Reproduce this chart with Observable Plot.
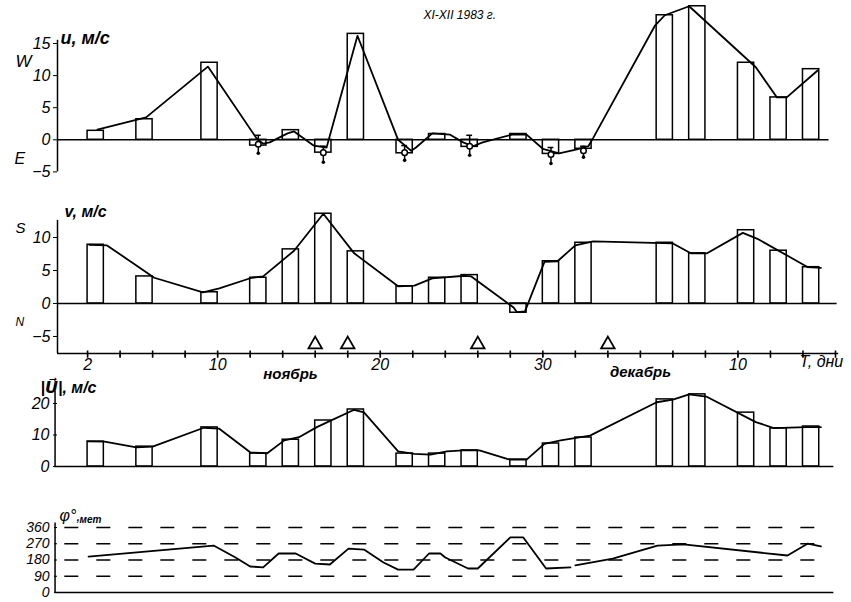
<!DOCTYPE html>
<html><head><meta charset="utf-8">
<script src="https://cdn.jsdelivr.net/npm/d3@7"></script>
<script src="https://cdn.jsdelivr.net/npm/@observablehq/plot@0.6"></script>
<style>
body{margin:0;background:#fff;}
#chart{position:relative;width:851px;height:602px;overflow:hidden;background:#fff;}
#chart svg{position:absolute;left:0;overflow:visible;background:transparent;}
</style></head><body><div id="chart"></div>
<script>
// ---------- DATA ----------
// day index T (uniform axis, ticks every 2 days)
const xTickValues = [2,4,6,8,10,12,14,16,18,20,22,24,26,28,30,32,34,36,38,40,42,44,46,48];
const xTickLabels = ["2","","","","10","","","","","20","","","","","30","","","","","","10","","",""];

// panel 1: u, m/s
const uBarDay = [2,5,9,12,14,16,18,21,23,25,28,30,32,37,39,42,44,46];
const uBarVal = [1.4,3.2,12.0,-0.9,1.5,-2.0,16.5,-2.1,0.9,-1.1,0.9,-2.2,-1.4,19.4,20.8,12.0,6.6,11.0];
const uLineT = [2.6,5.6,9.4,12.4,12.8,13.2,14.3,14.7,15.9,16.7,18.6,21.1,21.9,22.2,23.2,24.3,25.1,25.7,26.3,28.1,29.0,30.0,31.0,32.1,32.8,33.1,36.9,37.5,39.0,43.1,44.4,45.0,46.9];
const uLineV = [1.6,3.5,11.4,0.2,-0.6,-0.4,1.0,1.3,-0.9,-1.2,16.2,0.0,-1.7,-1.2,1.0,0.8,-0.4,-1.0,-0.4,0.8,0.8,-1.4,-2.1,-1.5,-1.0,0.3,17.8,19.4,20.8,11.3,6.6,6.6,10.8];
const uErrT  = [12.5,16.5,21.5,25.5,30.5,32.5];
const uErrV  = [-0.7,-2.0,-2.0,-1.0,-2.3,-1.7];
const uErrLo = [-2.1,-3.5,-3.2,-2.4,-3.7,-2.7];
const uErrHi = [0.7,-1.0,-0.9,0.7,-1.2,-1.0];
const uTicks = [-5,0,5,10,15];

// panel 2: v, m/s
const vBarDay = [2,5,9,12,14,16,18,21,23,25,28,30,32,37,39,42,44,46];
const vBarVal = [8.9,4.1,1.7,3.9,8.2,13.6,7.9,2.6,3.9,4.3,-1.4,6.4,9.2,9.2,7.6,11.1,8.0,5.5];
const vLineT = [2.1,3.2,6.1,9.1,10.1,12.1,12.8,14.7,16.5,18.4,21.1,22.1,23.2,25.2,25.6,28.2,28.4,28.9,30.1,30.9,32.0,33.1,38.0,39.1,40.1,42.3,43.2,45.0,46.3,47.1];
const vLineV = [8.9,8.8,3.9,1.7,2.3,3.9,4.1,8.0,13.6,7.6,2.6,2.7,3.8,4.2,4.1,-0.6,-1.3,-1.2,6.3,6.4,8.8,9.4,9.1,7.6,7.6,10.7,9.8,7.3,5.5,5.4];
const triangleDays = [16,18,26,34];
const vTicks = [-5,0,5,10];

// panel 3: |U|, m/s
const sBarDay = [2,5,9,12,14,16,18,21,23,25,28,30,32,37,39,42,44,46];
const sBarVal = [7.9,6.3,12.4,4.1,8.5,14.6,18.1,4.1,4.1,5.1,2.2,7.3,9.2,21.3,22.9,17.1,12.1,12.7];
const sLineT = [2.0,3.05,5.0,6.0,9.15,10.1,12.0,13.05,14.1,15.0,16.1,17.05,18.4,19.0,21.1,22.1,23.1,24.1,25.1,26.1,27.8,28.0,29.0,30.1,31.1,32.9,37.0,38.0,39.0,40.05,43.1,44.2,46.2,47.1];
const sLineV = [8.0,7.9,6.1,6.3,12.3,12.0,4.5,4.2,8.3,9.3,12.5,14.8,18.0,17.2,4.8,4.0,3.8,4.8,5.1,5.1,2.4,2.2,2.2,7.2,8.3,9.8,20.4,21.2,22.9,22.2,14.1,12.2,12.5,12.5];
const sTicks = [0,10,20];

// panel 4: direction, degrees (met.)
const phiT = [2.06,9.75,11.1,12.0,12.8,13.75,14.8,16.0,16.9,18.05,19.0,20.2,21.1,22.05,23.0,23.7,24.0,25.4,26.0,28.0,28.8,30.2,31.7,31.85,32.0,34.3,37.05,38.65,45.05,46.3,47.1];
const phiV = [199,260,194,144,139,216,216,160,155,243,238,166,127,127,216,216,194,133,133,305,305,133,139,null,150,188,260,266,205,271,255];
const phiTicks = [0,90,180,270,360];
const phiGrid = [90,180,270,360];

// ---------- LAYOUT ----------
const W = 851, ML = 57, MR = 16;
const xDomain = [0.15, 48];
const FONT = "'Liberation Sans', 'DejaVu Sans', sans-serif";
const idx = n => d3.range(n);
const baseStyle = {fontFamily: FONT, fontStyle: "italic", fontSize: "16px", background: "transparent", overflow: "visible"};
const chart = document.getElementById("chart");
function place(svg, top){ svg.style.top = top + "px"; chart.appendChild(svg); }
const bars = (days, vals) => Plot.rect(idx(days.length), {
  x1: i => days[i], x2: i => days[i] + 1, y1: 0, y2: i => vals[i],
  fill: "white", stroke: "black", strokeWidth: 1.5
});
const line = (T, V) => Plot.line(idx(T.length), {
  x: i => T[i], y: i => V[i], stroke: "black", strokeWidth: 1.8, curve: "linear"
});
const lbl = (txt, dx, dy, size, extra = {}) => Plot.text([txt], {
  frameAnchor: "top-left", dx, dy, textAnchor: "start", fontSize: size,
  fontStyle: "italic", fill: "black", ...extra
});

// Panel 1 ---------------------------------------------------------
const p1 = Plot.plot({
  width: W, height: 180, marginLeft: ML, marginRight: MR, marginTop: 43, marginBottom: 8.6,
  style: baseStyle,
  x: {domain: xDomain, axis: null},
  y: {domain: [-5, 15], ticks: uTicks, tickSize: 4, tickPadding: 3, label: null},
  marks: [
    Plot.ruleX([xDomain[0]], {y1: -5, y2: 15.5, stroke: "black", strokeWidth: 1.5}),
    bars(uBarDay, uBarVal),
    Plot.ruleY([0], {x1: xDomain[0], x2: 47.6, stroke: "black", strokeWidth: 1.6}),
    line(uLineT, uLineV),
    Plot.ruleX(idx(uErrT.length), {x: i => uErrT[i], y1: i => uErrLo[i], y2: i => uErrHi[i], stroke: "black", strokeWidth: 1.5}),
    Plot.ruleY(idx(uErrT.length), {y: i => uErrHi[i], x1: i => uErrT[i] - 0.18, x2: i => uErrT[i] + 0.18, stroke: "black", strokeWidth: 1.5}),
    Plot.dot(idx(uErrT.length), {x: i => uErrT[i], y: i => uErrLo[i], r: 1.8, fill: "black"}),
    Plot.dot(idx(uErrT.length), {x: i => uErrT[i], y: i => uErrV[i], r: 2.8, fill: "white", stroke: "black", strokeWidth: 1.5}),
    lbl("u, м/с", 3, -12, 18, {fontWeight: "bold"}),
    lbl("W", -42, 11, 17),
    lbl("E", -43, 109, 16),
    lbl("XI-XII 1983 г.", 366, -33, 12)
  ]
});
place(p1, 0);

// Panel 2 ---------------------------------------------------------
const p2 = Plot.plot({
  width: W, height: 200, marginLeft: ML, marginRight: MR, marginTop: 47, marginBottom: 37,
  style: baseStyle,
  x: {domain: xDomain, ticks: xTickValues, tickFormat: d => xTickLabels[xTickValues.indexOf(d)] ?? "",
      tickSize: 4, tickPadding: 1, label: null},
  y: {domain: [-7.58, 10], ticks: vTicks, tickSize: 4, tickPadding: 3, label: null},
  marks: [
    Plot.ruleX([xDomain[0]], {y1: -7.58, y2: 12.6, stroke: "black", strokeWidth: 1.5}),
    Plot.ruleY([-7.58], {x1: xDomain[0], x2: 48.2, stroke: "black", strokeWidth: 1.6}),
    Plot.ruleX(xTickValues, {y1: -7.2, y2: -8.3, stroke: "black", strokeWidth: 1.6}),
    bars(vBarDay, vBarVal),
    Plot.ruleY([0], {x1: xDomain[0], x2: 48.1, stroke: "black", strokeWidth: 1.6}),
    line(vLineT, vLineV),
    Plot.dot(triangleDays, {x: d => d, y: -6.2, symbol: "triangle", r: 5, fill: "white", stroke: "black", strokeWidth: 1.8}),
    lbl("v, м/с", 7, -32, 16, {fontWeight: "bold"}),
    lbl("S", -42, -15, 15),
    lbl("N", -42, 80, 12),
    Plot.text(["ноябрь"], {frameAnchor: "bottom-left", dx: 233, dy: 25, textAnchor: "middle", fontSize: 15, fontStyle: "italic", fontWeight: "bold"}),
    Plot.text(["декабрь"], {frameAnchor: "bottom-left", dx: 583, dy: 23, textAnchor: "middle", fontSize: 15, fontStyle: "italic", fontWeight: "bold"}),
    Plot.text(["T, дни"], {frameAnchor: "bottom-right", dx: -36, dy: 13, textAnchor: "start", fontSize: 16, fontStyle: "italic"})
  ]
});
place(p2, 190);

// Panel 3 ---------------------------------------------------------
const p3 = Plot.plot({
  width: W, height: 100, marginLeft: ML, marginRight: MR, marginTop: 31, marginBottom: 6,
  style: baseStyle,
  x: {domain: xDomain, axis: null},
  y: {domain: [0, 20], ticks: sTicks, tickSize: 4, tickPadding: 4, label: null},
  marks: [
    Plot.ruleX([0], {y1: 0, y2: 24, stroke: "black", strokeWidth: 1.5}),
    bars(sBarDay, sBarVal),
    Plot.ruleY([0], {x1: 0, x2: 47.9, stroke: "black", strokeWidth: 1.6}),
    line(sLineT, sLineV),
    lbl("|U\u20D7|, м/с", -17, -22, 16, {fontWeight: "bold"})
  ]
});
place(p3, 372);

// Panel 4 ---------------------------------------------------------
const p4 = Plot.plot({
  width: W, height: 102, marginLeft: ML, marginRight: MR, marginTop: 27, marginBottom: 10,
  style: {...baseStyle, fontSize: "14px"},
  x: {domain: xDomain, axis: null},
  y: {domain: [0, 360], ticks: phiTicks, tickSize: 3, tickPadding: 5, label: null},
  marks: [
    Plot.ruleX([0], {y1: 0, y2: 385, stroke: "black", strokeWidth: 1.5}),
    Plot.ruleY(phiGrid, {x1: 0.6, x2: 47.2, stroke: "black", strokeWidth: 1.6, strokeDasharray: "14,18"}),
    Plot.ruleY([0], {x1: 0, x2: 47.9, stroke: "black", strokeWidth: 1.6}),
    line(phiT, phiV),
    lbl("φ°,", 2, -18, 16),
    lbl("мет", 22, -12, 10, {fontWeight: "bold"})
  ]
});
place(p4, 500);
</script></body></html>
